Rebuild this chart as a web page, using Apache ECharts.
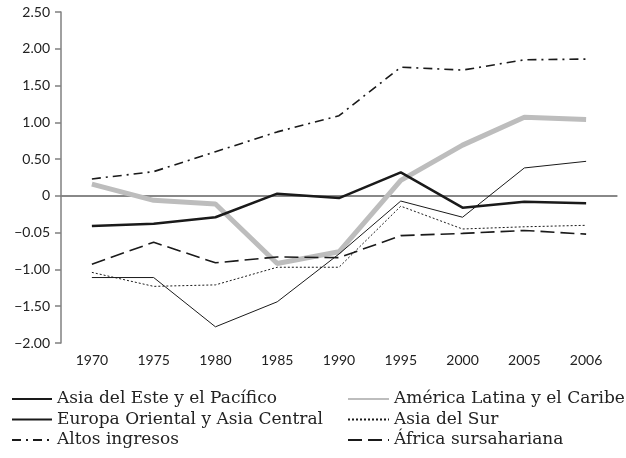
<!DOCTYPE html>
<html>
<head>
<meta charset="utf-8">
<script src="https://cdn.jsdelivr.net/npm/echarts@6/dist/echarts.min.js"></script>
<style>html,body{margin:0;padding:0;background:#fff}#c{width:626px;height:458px}</style>
</head>
<body>
<div id="c"></div>
<script>
const years = ['1970','1975','1980','1985','1990','1995','2000','2005','2006'];
const yTickLabels = {'2.5':'2.50','2':'2.00','1.5':'1.50','1':'1.00','0.5':'0.50','0':'0','-0.5':'\u22120.05','-1':'\u22121.00','-1.5':'\u22121.50','-2':'\u22122.00'};
const asiaEste   = [-0.41,-0.38,-0.29, 0.03,-0.03, 0.32,-0.16,-0.08,-0.10];
const europaOr   = [-1.11,-1.11,-1.78,-1.44,-0.79,-0.07,-0.29, 0.38, 0.47];
const altos      = [ 0.23, 0.33, 0.60, 0.87, 1.09, 1.75, 1.71, 1.85, 1.86];
const americaLat = [ 0.16,-0.06,-0.11,-0.92,-0.76, 0.21, 0.69, 1.07, 1.04];
const asiaSur    = [-1.04,-1.23,-1.21,-0.97,-0.97,-0.14,-0.45,-0.42,-0.40];
const africa     = [-0.93,-0.63,-0.91,-0.83,-0.84,-0.54,-0.51,-0.47,-0.52];

const chart = echarts.init(document.getElementById('c'));
const serif = 'DejaVu Serif';
const sans = 'Lato';
function ln(name, data, color, width, type, z){
  return {name, type:'line', data, symbol:'none', z: z||2,
    lineStyle:{color, width, type: type||'solid'}, itemStyle:{color}};
}
const s = [
  ln('Asia del Este y el Pacífico', asiaEste, '#1a1a1a', 2.5, 'solid', 4),
  ln('Europa Oriental y Asia Central', europaOr, '#1a1a1a', 1, 'solid', 3),
  ln('Altos ingresos', altos, '#1a1a1a', 1.6, [9,5,2,5], 3),
  ln('América Latina y el Caribe', americaLat, '#bdbdbd', 5, 'solid', 2),
  ln('Asia del Sur', asiaSur, '#1a1a1a', 1, [2,2], 3),
  ln('África sursahariana', africa, '#1a1a1a', 1.6, [14,6], 3)
];
s[0].markLine = {silent:true, symbol:'none', label:{show:false},
  lineStyle:{color:'#808080', width:1.5, type:'solid'}, data:[{yAxis:0}], z:1};
const legText = {fontFamily: serif, fontSize: 17, color:'#222', lineHeight:20};
const legBase = {orient:'vertical', top:389, itemHeight:14, itemGap:0.5, padding:0,
  textStyle:legText, itemStyle:{color:'rgba(0,0,0,0)', borderWidth:0, opacity:0}};
chart.setOption({
  animation:false,
  grid:{left:61, right:9, top:12, bottom:115},
  xAxis:{type:'category', data:years, boundaryGap:true,
    axisLine:{lineStyle:{color:'#808080', width:1.5}},
    axisTick:{alignWithLabel:true, length:5, lineStyle:{color:'#808080', width:1.5}},
    axisLabel:{fontFamily:sans, fontSize:14, color:'#222', margin:10}},
  yAxis:{type:'value', min:-2, max:2.5, interval:0.5,
    axisLine:{show:true, lineStyle:{color:'#808080', width:1.5}},
    axisTick:{show:true, length:6, lineStyle:{color:'#808080', width:1.5}},
    splitLine:{show:false},
    axisLabel:{fontFamily:sans, fontSize:14, color:'#222', margin:11,
      formatter:v=>yTickLabels[String(v)] ?? String(v)}},
  legend:[
    Object.assign({}, legBase, {left:11, itemWidth:40, data:[s[0].name, s[1].name, s[2].name]}),
    Object.assign({}, legBase, {left:347, itemWidth:41, data:[s[3].name, s[4].name, s[5].name]})
  ],
  series:s
});
</script>
</body>
</html>
